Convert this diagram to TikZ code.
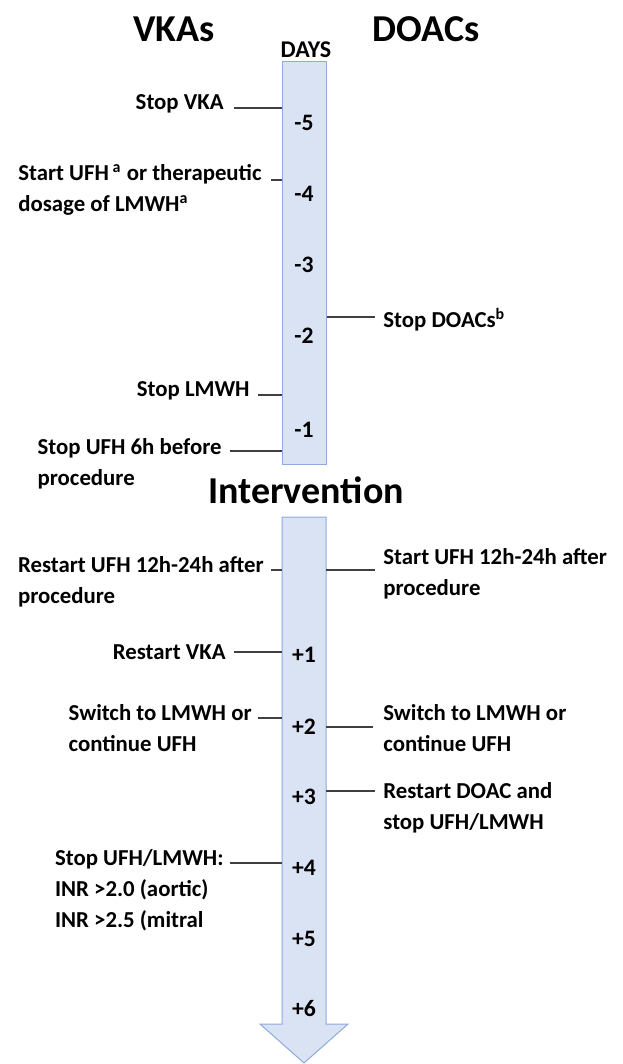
\documentclass[tikz,border=0pt]{standalone}
\usepackage{fontspec}
\setmainfont{Carlito}
\usetikzlibrary{calc}
\definecolor{stripfill}{HTML}{DAE3F3}
\definecolor{stripline}{HTML}{8FAADC}
\definecolor{tickgray}{HTML}{404040}

\begin{document}
\begin{tikzpicture}[x=0.5pt, y=-0.5pt,
  lbl/.style={font=\bfseries\fontsize{11.4}{15.5}\selectfont, align=left, inner sep=0pt},
  day/.style={font=\bfseries\fontsize{11.8}{13}\selectfont, inner sep=0pt},
  ttl/.style={font=\bfseries\fontsize{19}{22}\selectfont, inner sep=0pt},
  tick/.style={draw=tickgray, line width=0.6pt},
  strip/.style={fill=stripfill, draw=stripline, line width=0.5pt}]
\useasboundingbox (0,0) rectangle (622,1064);

% time line, before and after the intervention
\node[strip, minimum width=22pt, minimum height=201.5pt, inner sep=0pt, anchor=north] (upper) at (304,61) {};
\coordinate (lowW) at (282,517); \coordinate (lowE) at (326,517);
\draw[strip] (lowW) -- (lowE) -- (326,1024) -- (348,1024) -- (304,1063) -- (260,1024) -- (282,1024) -- cycle;
\foreach \d/\y/\n in {-5/123/m5, -4/194/m4, -3/265/m3, -2/336/m2, -1/430/m1, +1/655/p1, +2/727/p2, +3/797/p3, +4/868/p4, +5/939/p5, +6/1009/p6}
	\node[day] (d\n) at (304,\y) {\d};

\node[ttl] (vkas) at (174,29) {VKAs};
\node[ttl] (doacs) at (426,29) {DOACs};
\node[font=\bfseries\fontsize{12}{14}\selectfont, inner sep=0pt] (days) at (306,50) {DAYS};
\node[ttl] (interv) at (306,490) {Intervention};

% VKAs
\node[lbl, anchor=north east] (stopVKA) at (224,94) {Stop VKA};
\node[lbl, anchor=north east] (startUFH) at (262,164) {Start UFH\,\textsuperscript{a} or therapeutic\\dosage of LMWH\textsuperscript{a}};
\node[lbl, anchor=north east] (stopLMWH) at (250,381) {Stop LMWH};
\node[lbl, anchor=north east] (stopUFH) at (222,438) {Stop UFH 6h before\\procedure};
\node[lbl, anchor=north east] (restartUFH) at (264,556) {Restart UFH 12h-24h after\\procedure};
\node[lbl, anchor=north east] (restartVKA) at (226,644) {Restart VKA};
\node[lbl, anchor=north east] (switchL) at (252,704) {Switch to LMWH or\\continue UFH};
\node[lbl, anchor=north east] (stopBoth) at (224,849) {Stop UFH/LMWH:\\INR >2.0 (aortic)\\INR >2.5 (mitral};
\foreach \n/\x/\y in {a/234/108, b/271/180, c/258/395, d/230/451}
	{ \coordinate (tl\n) at (\x,\y); \draw[tick] (tl\n) -- (tl\n -| upper.west); }
\foreach \n/\x/\y in {e/271/570, f/234/652, g/258/718, h/230/863}
	{ \coordinate (tl\n) at (\x,\y); \draw[tick] (tl\n) -- (tl\n -| lowW); }

% DOACs
\node[lbl, anchor=north west] (stopDOAC) at (383,308) {Stop DOACs\textsuperscript{b}};
\node[lbl, anchor=north west] (startUFHr) at (383,548) {Start UFH 12h-24h after\\procedure};
\node[lbl, anchor=north west] (switchR) at (383,704) {Switch to LMWH or\\continue UFH};
\node[lbl, anchor=north west] (restartDOAC) at (383,782) {Restart DOAC and\\stop UFH/LMWH};
\coordinate (tra) at (375,317); \draw[tick] (tra -| upper.east) -- (tra);
\foreach \n/\x/\y in {b/375/570, c/373/727, d/375/791}
	{ \coordinate (tr\n) at (\x,\y); \draw[tick] (tr\n -| lowE) -- (tr\n); }
\end{tikzpicture}
\end{document}
